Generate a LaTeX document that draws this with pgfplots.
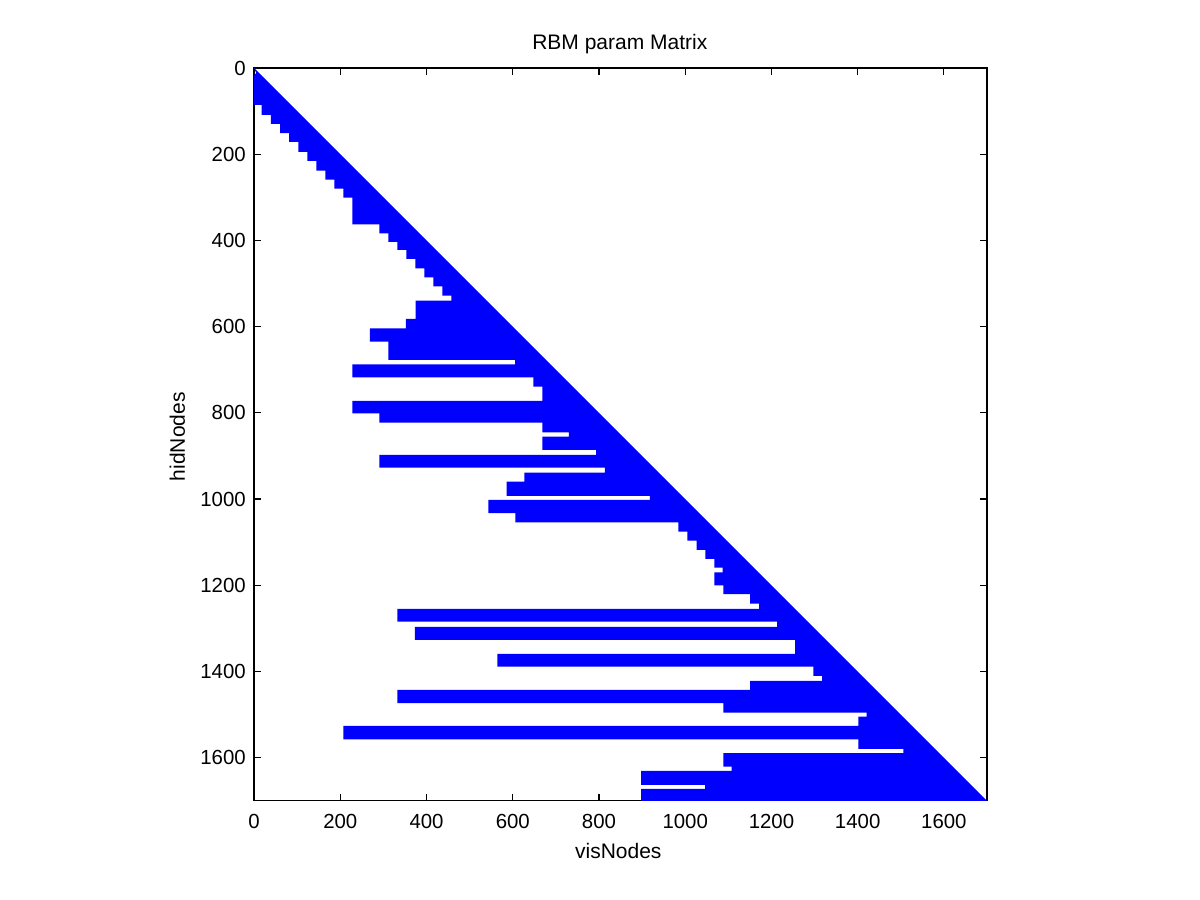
\documentclass[border=0pt]{standalone}
\usepackage{fontspec}
\setmainfont{Liberation Sans}
\usepackage{pgfplots}
\pgfplotsset{compat=1.18}
\definecolor{spyblue}{RGB}{0,0,255}
\begin{document}
\begin{tikzpicture}
\path[use as bounding box] (-127.05pt,-49.6pt) rectangle (472.95pt,400.4pt);
\begin{axis}[
  at={(0pt,0pt)}, anchor=south west,
  scale only axis, width=366.45pt, height=366.4pt,
  xmin=0, xmax=1700, ymin=0, ymax=1700, y dir=reverse,
  xtick={0,200,...,1600}, ytick={0,200,...,1600},
  tick align=inside, major tick length=3.5pt,
  axis line style={line width=0.6pt},
  every tick/.style={black, line width=0.6pt},
  tick label style={font=\fontsize{10.2}{12}\selectfont},
  /pgf/number format/assume math mode=true,
  scaled ticks=false, /pgf/number format/set thousands separator={},
  xticklabel style={anchor=north, inner sep=0pt, yshift=-6.75pt},
  yticklabel style={anchor=east, inner sep=0pt, xshift=-4pt},
]
\addplot[draw=none, fill=spyblue] coordinates {
(0,0) (1700,1700)
(897.5,1700) (897.5,1672.4)
(1045.9,1672.4) (1045.9,1663.2)
(897.5,1663.2) (897.5,1630.7)
(1107.8,1630.7) (1107.8,1620.7)
(1088.4,1620.7) (1088.4,1589.6)
(1505.9,1589.6) (1505.9,1579.6)
(1401.5,1579.6) (1401.5,1557.6)
(206.9,1557.6) (206.9,1526.3)
(1401.5,1526.3) (1401.5,1504.7)
(1421,1504.7) (1421,1495.4)
(1088.4,1495.4) (1088.4,1473.6)
(332.6,1473.6) (332.6,1442.8)
(1150.3,1442.8) (1150.3,1421.9)
(1317.3,1421.9) (1317.3,1410.3)
(1297.1,1410.3) (1297.1,1388.8)
(564.1,1388.8) (564.1,1359.3)
(1254.7,1359.3) (1254.7,1326.8)
(373.2,1326.8) (373.2,1296.7)
(1212.9,1296.7) (1212.9,1284.4)
(332.2,1284.4) (332.2,1254.9)
(1171.2,1254.9) (1171.2,1242.6)
(1150.3,1242.6) (1150.3,1220.8)
(1088.4,1220.8) (1088.4,1200.4)
(1067.5,1200.4) (1067.5,1169.8)
(1087,1169.8) (1087,1159.1)
(1067.5,1159.1) (1067.5,1138.9)
(1046.6,1138.9) (1046.6,1118)
(1026.7,1118) (1026.7,1096.5)
(1004.8,1096.5) (1004.8,1075.6)
(984,1075.6) (984,1054.3)
(605.9,1054.3) (605.9,1032.9)
(543.3,1032.9) (543.3,1002.1)
(918.3,1002.1) (918.3,992.8)
(585.5,992.8) (585.5,959.6)
(626.8,959.6) (626.8,938.7)
(813.9,938.7) (813.9,927.1)
(290.4,927.1) (290.4,897.7)
(793.1,897.7) (793.1,886.1)
(668.5,886.1) (668.5,855.2)
(730.4,855.2) (730.4,845)
(668.5,845) (668.5,822.8)
(290.4,822.8) (290.4,801)
(227.8,801) (227.8,772.4)
(668.5,772.4) (668.5,739.3)
(647.6,739.3) (647.6,717.5)
(227.8,717.5) (227.8,687.3)
(605.2,687.3) (605.2,677.3)
(311.3,677.3) (311.3,634.9)
(268.8,634.9) (268.8,603.8)
(352.3,603.8) (352.3,582.2)
(374.8,582.2) (374.8,539.8)
(457.4,539.8) (457.4,528.2)
(436.5,528.2) (436.5,506.4)
(415.7,506.4) (415.7,485.5)
(394.8,485.5) (394.8,464.6)
(373.9,464.6) (373.9,443)
(353,443) (353,422.2)
(332.2,422.2) (332.2,403.6)
(311.3,403.6) (311.3,383.4)
(290.4,383.4) (290.4,362.6)
(227.8,362.6) (227.8,300.9)
(206.9,300.9) (206.9,280)
(186,280) (186,259.1)
(165.2,259.1) (165.2,238.2)
(144.3,238.2) (144.3,215.7)
(123.4,215.7) (123.4,194.8)
(102.5,194.8) (102.5,171.6)
(81,171.6) (81,150.8)
(60.1,150.8) (60.1,129.9)
(39.2,129.9) (39.2,109)
(17.6,109) (17.6,85.8)
(0,85.8) (0,16) (5,12)
};
\end{axis}
\node[anchor=base, font=\fontsize{10.5}{12}\selectfont] at (182.85pt,375.75pt) {RBM param Matrix};
\node[anchor=base, font=\fontsize{10.5}{12}\selectfont] at (182.1pt,-28.75pt) {visNodes};
\node[anchor=base, rotate=90, font=\fontsize{10.5}{12}\selectfont] at (-34.55pt,182.05pt) {hidNodes};
\end{tikzpicture}
\end{document}
